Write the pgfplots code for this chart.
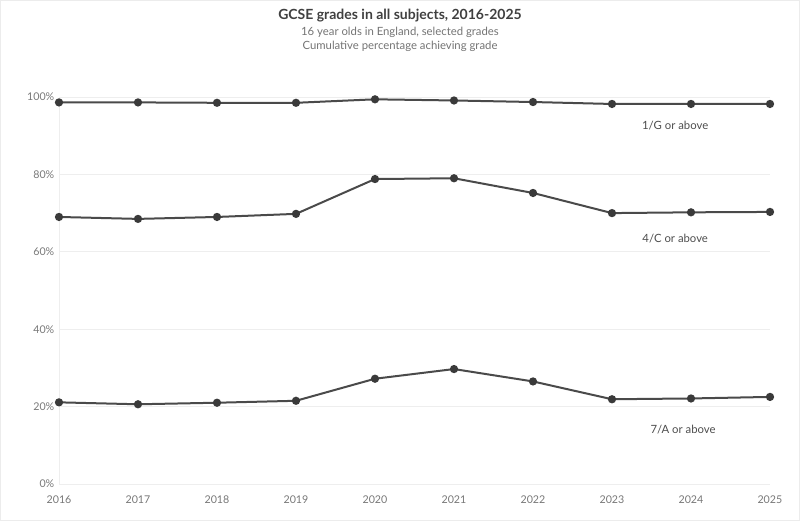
\documentclass[border=0pt]{standalone}
\usepackage{pgfplots}
\pgfplotsset{compat=1.18}
\usepackage{fontspec}
\setmainfont{Lato}
\definecolor{linec}{HTML}{4A4A4A}
\definecolor{markc}{HTML}{3A3A3A}
\definecolor{gridc}{HTML}{EEEEEE}
\definecolor{tickc}{HTML}{777777}
\begin{document}
\begin{tikzpicture}[x=0.75pt,y=0.75pt]
\path[use as bounding box] (0,0) rectangle (800,521);
\draw[gray!15, line width=1pt] (0.5,0.5) rectangle (799.5,520.5);
\node[font=\fontsize{10.5}{12}\selectfont\bfseries, text=black!75] at (400,505) {GCSE grades in all subjects, 2016-2025};
\node[font=\fontsize{8.5}{10}\selectfont, text=black!55] at (400,489) {16 year olds in England, selected grades};
\node[font=\fontsize{8.5}{10}\selectfont, text=black!55] at (400,475) {Cumulative percentage achieving grade};
\begin{axis}[
  at={(59pt*0.75,37pt*0.75)}, anchor=south west,
  scale only axis, width=533.25pt, height=290.25pt,
  xmin=2016, xmax=2025, ymin=0, ymax=100,
  xtick={2016,...,2025},
  ytick={0,20,40,60,80,100},
  yticklabel={\pgfmathprintnumber{\tick}\%},
  xticklabel style={/pgf/number format/1000 sep={}, yshift=-5pt},
  /pgf/number format/assume math mode=true,
  tick label style={font=\fontsize{8}{9}\selectfont, text=tickc},
  axis line style={draw=none},
  axis x line*=bottom, axis y line*=left,
  major tick length=0pt,
  ymajorgrids, grid style={gridc, line width=0.6pt},
  clip=false,
]
\draw[gridc, line width=0.6pt] (axis cs:2016,0) -- (axis cs:2016,100);
\addplot[linec, line width=1.5pt, mark=*, mark size=2.3pt, mark options={fill=markc, draw=markc}]
 coordinates {(2016,98.6) (2017,98.6) (2018,98.5) (2019,98.5) (2020,99.4) (2021,99.1) (2022,98.7) (2023,98.2) (2024,98.2) (2025,98.2)};
\addplot[linec, line width=1.5pt, mark=*, mark size=2.3pt, mark options={fill=markc, draw=markc}]
 coordinates {(2016,69.0) (2017,68.5) (2018,69.0) (2019,69.8) (2020,78.8) (2021,79.0) (2022,75.2) (2023,70.0) (2024,70.2) (2025,70.3)};
\addplot[linec, line width=1.5pt, mark=*, mark size=2.3pt, mark options={fill=markc, draw=markc}]
 coordinates {(2016,21.1) (2017,20.6) (2018,21.0) (2019,21.5) (2020,27.2) (2021,29.7) (2022,26.5) (2023,21.9) (2024,22.1) (2025,22.5)};
\node[font=\fontsize{8.5}{10}\selectfont, text=black!70] at (axis cs:2023.8,92.5) {1/G or above};
\node[font=\fontsize{8.5}{10}\selectfont, text=black!70] at (axis cs:2023.8,63.5) {4/C or above};
\node[font=\fontsize{8.5}{10}\selectfont, text=black!70] at (axis cs:2023.9,14.0) {7/A or above};
\end{axis}
\end{tikzpicture}
\end{document}
